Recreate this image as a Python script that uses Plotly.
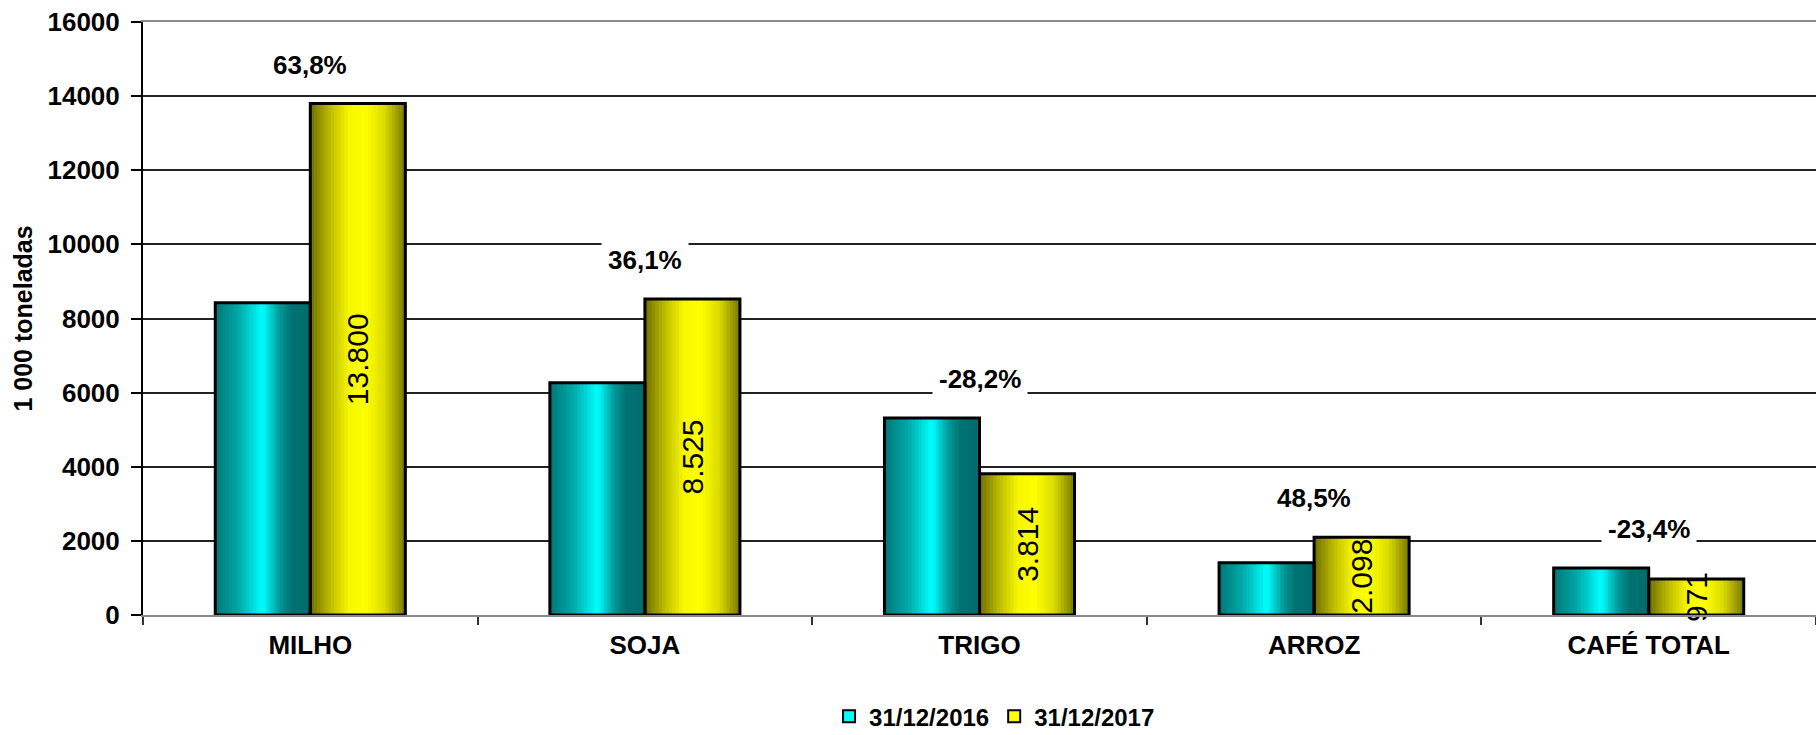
import plotly.graph_objects as go

CATEGORIES = ["MILHO", "SOJA", "TRIGO", "ARROZ", "CAFÉ TOTAL"]
STOCK_2016 = [8425, 6264, 5312, 1413, 1268]
STOCK_2017 = [13800, 8525, 3814, 2098, 971]
CHANGE_LABELS = ["63,8%", "36,1%", "-28,2%", "48,5%", "-23,4%"]
SERIES_NAMES = ["31/12/2016", "31/12/2017"]

FONT = "Liberation Sans, Arial, sans-serif"
BAR_W = 0.284
N_SLICES = 28

# horizontal "cylinder" shading, like the old Excel gradient fill
TEAL_STOPS = [(0.0, (0, 118, 118)), (0.25, (0, 170, 170)), (0.5, (0, 255, 255)),
              (0.68, (0, 150, 150)), (0.8, (0, 114, 114)), (1.0, (0, 108, 108))]
YELLOW_STOPS = [(0.0, (110, 110, 0)), (0.2, (185, 185, 0)), (0.4, (246, 246, 0)),
                (0.58, (255, 255, 0)), (0.78, (220, 220, 0)), (1.0, (118, 118, 0))]


def _grad(stops, t):
    for (p0, c0), (p1, c1) in zip(stops, stops[1:]):
        if p0 <= t <= p1:
            f = (t - p0) / (p1 - p0)
            c = [round(a + (b - a) * f) for a, b in zip(c0, c1)]
            return f"rgb({c[0]},{c[1]},{c[2]})"
    return f"rgb{stops[-1][1]}"


def shaded_bars(fig, values, stops, start):
    step = BAR_W / N_SLICES
    for i in range(N_SLICES):
        fig.add_trace(go.Bar(
            x=CATEGORIES, y=values,
            offset=start + i * step,
            width=step * (1.4 if i < N_SLICES - 1 else 1.0),
            marker=dict(color=_grad(stops, (i + 0.5) / N_SLICES), line=dict(width=0)),
            showlegend=False, hoverinfo="skip",
        ))


fig = go.Figure()
shaded_bars(fig, STOCK_2016, TEAL_STOPS, -BAR_W)
shaded_bars(fig, STOCK_2017, YELLOW_STOPS, 0)

# outlines (and value labels on the 2017 bars)
fig.add_trace(go.Bar(
    x=CATEGORIES, y=STOCK_2016, offset=-BAR_W, width=BAR_W,
    marker=dict(color="rgba(0,0,0,0)", line=dict(color="black", width=3)),
    showlegend=False, hovertemplate="%{x}<br>%{y}<extra>31/12/2016</extra>",
))
fig.add_trace(go.Bar(
    x=CATEGORIES, y=STOCK_2017, offset=0, width=BAR_W,
    marker=dict(color="rgba(0,0,0,0)", line=dict(color="black", width=3)),
    text=[f"{v:,}".replace(",", ".") for v in STOCK_2017],
    textposition="inside", insidetextanchor="middle", textangle=-90,
    constraintext="none", cliponaxis=False,
    insidetextfont=dict(family=FONT, size=30, color="black"),
    showlegend=False, hovertemplate="%{x}<br>%{y}<extra>31/12/2017</extra>",
))

# legend entries
for name, color in zip(SERIES_NAMES, ["#00FFFF", "#FFFF00"]):
    fig.add_trace(go.Bar(
        x=[None], y=[None], name=name,
        marker=dict(color=color, line=dict(color="black", width=2)),
    ))

for cat, a, b, lab in zip(CATEGORIES, STOCK_2016, STOCK_2017, CHANGE_LABELS):
    fig.add_annotation(
        x=cat, y=max(a, b), yshift=39, text=lab, showarrow=False,
        yanchor="middle", bgcolor="white", borderpad=6,
        font=dict(family=FONT, size=26, color="black", weight="bold"),
    )

fig.update_layout(
    width=1816, height=735,
    margin=dict(l=143, r=0, t=22, b=120, autoexpand=False),
    barmode="overlay",
    paper_bgcolor="white", plot_bgcolor="white",
    font=dict(family=FONT, color="black"),
    legend=dict(orientation="h", x=0.509, xanchor="center",
                yref="container", y=0.025, yanchor="middle",
                font=dict(family=FONT, size=24, weight="bold"), traceorder="normal"),
    xaxis=dict(
        showgrid=False, showline=True, linecolor="#8a8a8a", linewidth=2, mirror=True,
        ticks="outside", tickson="boundaries", ticklen=8, tickwidth=1.5, tickcolor="#333",
        tickfont=dict(family=FONT, size=26, weight="bold"),
        ticklabelstandoff=6,
    ),
    yaxis=dict(
        range=[0, 16000], dtick=2000, tickformat="d",
        showgrid=True, gridcolor="#222", gridwidth=1.5, zeroline=False,
        showline=True, linecolor="black", linewidth=2,
        ticks="outside", ticklen=10, tickwidth=2, tickcolor="black",
        tickfont=dict(family=FONT, size=26, weight="bold"),
        ticklabelstandoff=6,
        title=dict(text="1 000 toneladas", standoff=8,
                   font=dict(family=FONT, size=25, weight="bold")),
    ),
)

fig.write_html("out.html", config={"displayModeBar": False},
               post_script="document.body.style.margin='0';")
